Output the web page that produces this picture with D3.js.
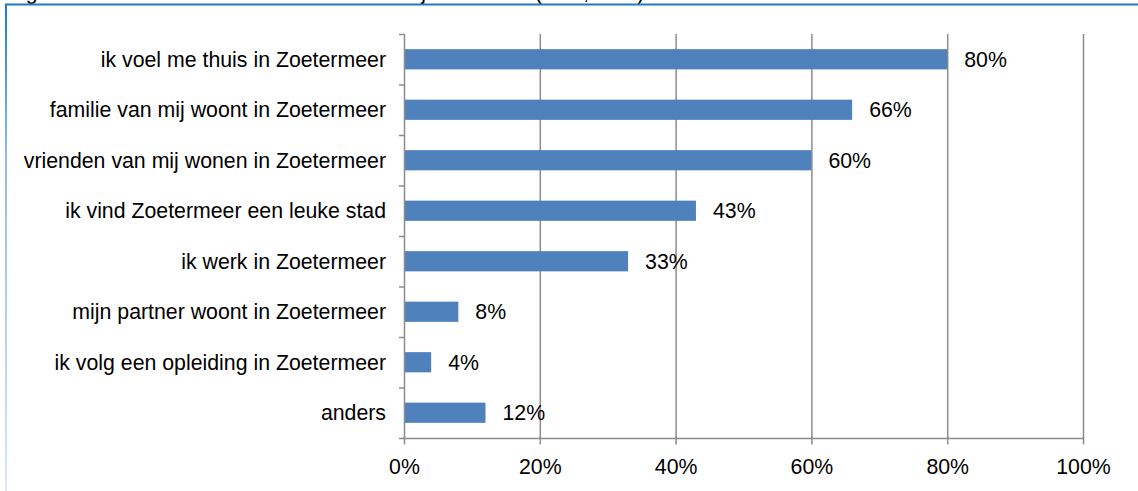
<!DOCTYPE html>
<html><head><meta charset="utf-8">
<script src="https://cdn.jsdelivr.net/npm/d3@7"></script>
<style>body{margin:0;background:#fff;}svg{display:block;font-family:"Liberation Sans",Arial,sans-serif;}</style>
</head><body>
<script>
const categories = ["ik voel me thuis in Zoetermeer","familie van mij woont in Zoetermeer","vrienden van mij wonen in Zoetermeer","ik vind Zoetermeer een leuke stad","ik werk in Zoetermeer","mijn partner woont in Zoetermeer","ik volg een opleiding in Zoetermeer","anders"];
const values = [80, 66, 60, 43, 33, 8, 4, 12];
const xTicks = [0, 20, 40, 60, 80, 100];
const title = "Figuur 3.4 Redenen om in Zoetermeer te blijven wonen (in %, n=...)";

const W = 1138, H = 491;
const FS = 21.3;
const svg = d3.select("body").append("svg").attr("width", W).attr("height", H);
const defs = svg.append("defs");
const g1 = defs.append("linearGradient").attr("id","lg").attr("x1",0).attr("y1",0).attr("x2",0).attr("y2",1);
g1.append("stop").attr("offset","0%").attr("stop-color","#1f7bc4");
g1.append("stop").attr("offset","30%").attr("stop-color","#8dbbe6");
g1.append("stop").attr("offset","100%").attr("stop-color","#dbe8f7");

// cut-off title (as in the reference, only its lower edge shows)
svg.append("text").attr("x", 8).attr("y", -1).attr("font-size", FS).attr("fill","#000").text(title);
// frame
svg.append("rect").attr("x",0).attr("y",4).attr("width",W).attr("height",H).attr("fill","#fff");
svg.append("line").attr("x1",5).attr("x2",W).attr("y1",4.5).attr("y2",4.5).attr("stroke","#1f7bc4").attr("stroke-width",2);
svg.append("rect").attr("x",5).attr("y",4).attr("width",2).attr("height",H).attr("fill","url(#lg)");

const x = d3.scaleLinear().domain([0,100]).range([404, 1083]);
const y = d3.scaleBand().domain(categories).range([34, 438]).paddingInner(0.6).paddingOuter(0.3);
const yb = d3.scaleBand().domain(categories).range([34, 438]);
const grey = "#8c8c8c";

// grid
svg.append("g").selectAll("line").data(xTicks.slice(1)).join("line")
  .attr("x1", d=>x(d)+0.5).attr("x2", d=>x(d)+0.5).attr("y1", 34).attr("y2", 438)
  .attr("stroke", grey).attr("stroke-width", 1.5);

// bars
svg.append("g").selectAll("rect").data(values).join("rect")
  .attr("x", x(0)).attr("y", (d,i)=>y(categories[i]))
  .attr("width", d=>x(d)-x(0)).attr("height", y.bandwidth())
  .attr("fill", "#4f81bd");

// value labels
svg.append("g").selectAll("text").data(values).join("text")
  .attr("x", d=>x(d)+17).attr("y", (d,i)=>y(categories[i])+y.bandwidth()/2)
  .attr("dy","0.36em").attr("font-size",FS).attr("fill","#000").text(d=>d+"%");

// x axis
const xa = svg.append("g").attr("transform","translate(0,438.5)")
  .call(d3.axisBottom(x).tickValues(xTicks).tickFormat(d=>d+"%").tickSize(6).tickPadding(14));
xa.select(".domain").attr("stroke", grey).attr("stroke-width",1.5).attr("d","M404,0H1083.5");
xa.selectAll(".tick line").attr("stroke", grey).attr("stroke-width",1.5).attr("y1",-2);
xa.selectAll(".tick text").attr("font-size",FS).attr("fill","#000").attr("font-family","Liberation Sans, Arial, sans-serif");

// y axis
const boundaries = categories.map(c=>yb(c)).concat([438]);
svg.append("line").attr("x1",404.5).attr("x2",404.5).attr("y1",34).attr("y2",438).attr("stroke",grey).attr("stroke-width",1.5);
svg.append("g").selectAll("line").data(boundaries).join("line")
  .attr("x1",399).attr("x2",405).attr("y1",d=>d+0.5).attr("y2",d=>d+0.5).attr("stroke",grey).attr("stroke-width",1.5);
svg.append("g").selectAll("text").data(categories).join("text")
  .attr("x", 386).attr("y", c=>yb(c)+yb.bandwidth()/2).attr("dy","0.36em")
  .attr("text-anchor","end").attr("font-size",FS).attr("fill","#000").text(c=>c);
</script>
</body></html>
